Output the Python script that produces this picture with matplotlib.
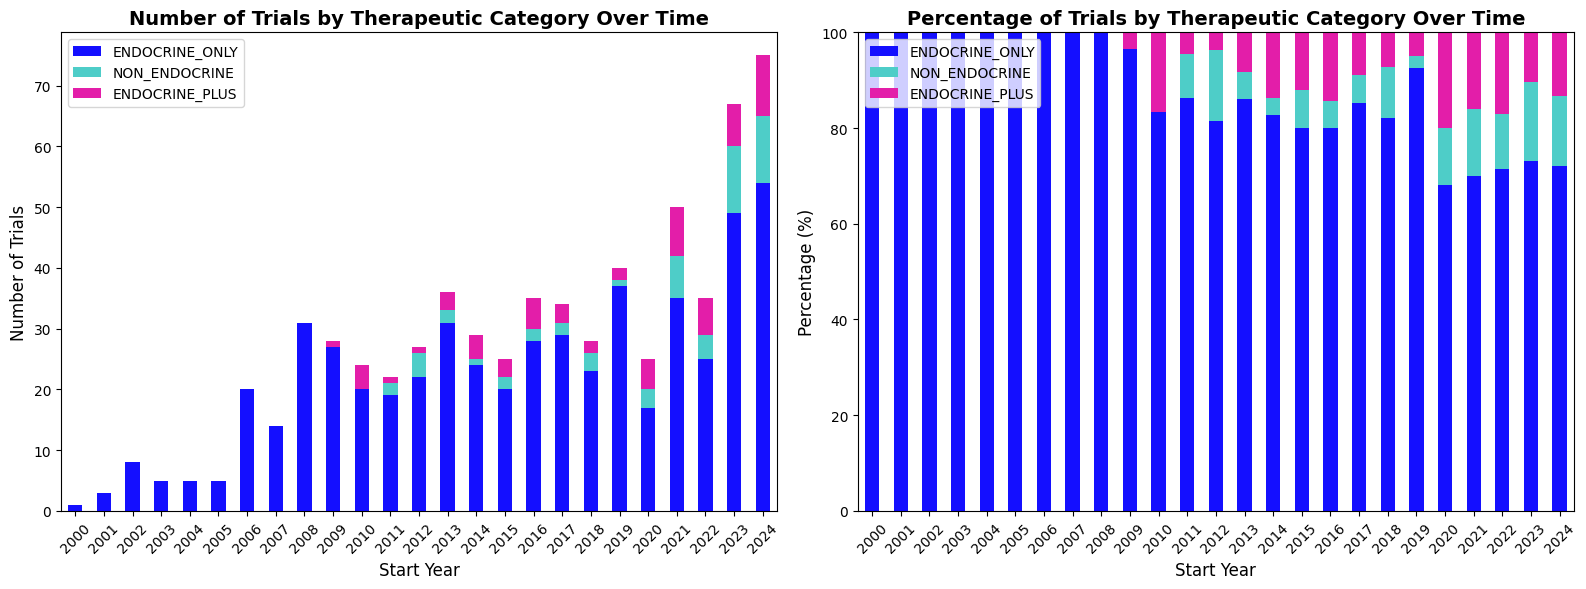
import matplotlib
matplotlib.use("Agg")
import matplotlib.pyplot as plt
import pandas as pd

# trial counts per start year
years = list(range(2000, 2025))
endocrine_only = [1, 3, 8, 5, 5, 5, 20, 14, 31, 27, 20, 19, 22, 31, 24, 20,
                  28, 29, 23, 37, 17, 35, 25, 49, 54]
non_endocrine = [0, 0, 0, 0, 0, 0, 0, 0, 0, 0, 0, 2, 4, 2, 1, 2,
                 2, 2, 3, 1, 3, 7, 4, 11, 11]
endocrine_plus = [0, 0, 0, 0, 0, 0, 0, 0, 0, 1, 4, 1, 1, 3, 4, 3,
                  5, 3, 2, 2, 5, 8, 6, 7, 10]

colors = ['#140FFF', '#4ECDC8', '#E31EA9']

df = pd.DataFrame({
    'ENDOCRINE_ONLY': endocrine_only,
    'NON_ENDOCRINE': non_endocrine,
    'ENDOCRINE_PLUS': endocrine_plus,
}, index=years)
pct = df.div(df.sum(axis=1), axis=0) * 100

fig, (ax1, ax2) = plt.subplots(1, 2, figsize=(16, 6), dpi=100)

df.plot(kind='bar', stacked=True, ax=ax1, color=colors, rot=45)
ax1.set_title('Number of Trials by Therapeutic Category Over Time',
              fontsize=14, fontweight='bold')
ax1.set_xlabel('Start Year', fontsize=12)
ax1.set_ylabel('Number of Trials', fontsize=12)
ax1.legend(loc='upper left')

pct.plot(kind='bar', stacked=True, ax=ax2, color=colors, rot=45)
ax2.set_title('Percentage of Trials by Therapeutic Category Over Time',
              fontsize=14, fontweight='bold')
ax2.set_xlabel('Start Year', fontsize=12)
ax2.set_ylabel('Percentage (%)', fontsize=12)
ax2.set_ylim(0, 100)
ax2.legend(loc='upper left')

plt.tight_layout()
plt.savefig('out.png', dpi=100, bbox_inches='tight')
